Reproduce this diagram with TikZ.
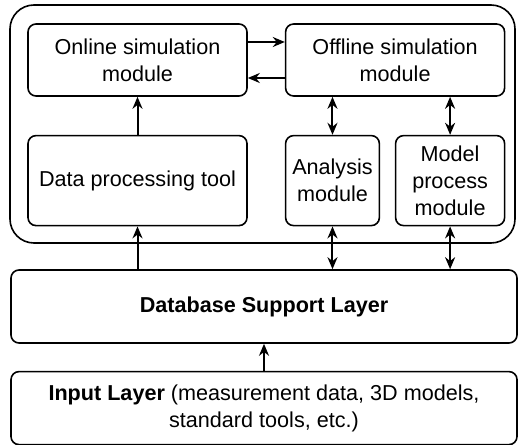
\documentclass[tikz,border=0pt]{standalone}
\usepackage{fontspec}
\setmainfont{Liberation Sans}
\usepackage{tikz}
\usetikzlibrary{positioning,arrows.meta}
\tikzstyle{arrow} = [line width=1pt,->,>={Stealth[length=6pt,width=5pt]}]
\tikzstyle{darrow} = [line width=1pt,<->,>={Stealth[length=6pt,width=5pt]}]
\tikzstyle{tBox} = [rectangle, rounded corners=4pt, draw=black, line width=0.8pt, align=center, text centered, font=\fontsize{10.8}{13.5}\selectfont]
\tikzstyle{tLayer} = [tBox, minimum width=253pt, minimum height=36.5pt]

\begin{document}
\begin{tikzpicture}[x=0.5pt,y=-0.5pt]
        \useasboundingbox (0,0) rectangle (518,444);
        \node[draw=black, line width=0.8pt, rounded corners=12pt, minimum width=252.5pt, minimum height=119pt] (Platform) at (262.5,124) {};
        \node[tBox, minimum width=109.5pt, minimum height=36pt] (Online) at (137.5,60) {Online simulation\\module};
        \node[tBox, minimum width=109.5pt, minimum height=36pt] (Offline) [right=18.5pt of Online] {Offline simulation\\module};
        \node[tBox, minimum width=109.5pt, minimum height=45pt] (DataProc) [below=19pt of Online] {Data processing tool};
        \node[tBox, minimum width=45.5pt, minimum height=45pt] (Analysis) [below=19pt of Offline.south west, anchor=north west] {Analysis\\module};
        \node[tBox, minimum width=54.5pt, minimum height=45pt] (ModelProc) [below=19pt of Offline.south east, anchor=north east] {Model\\process\\module};
        \node[tLayer] (Database) at (264,306.5) {\textbf{Database Support Layer}};
        \node[tLayer] (Input) [below=13.5pt of Database] {\textbf{Input Layer} (measurement data, 3D models,\\standard tools, etc.)};

        \draw[arrow] ([yshift=9pt]Online.east) -- ([yshift=9pt]Online.east -| Offline.west);
        \draw[arrow] ([yshift=-9pt]Offline.west) -- ([yshift=-9pt]Offline.west -| Online.east);
        \draw[arrow] (DataProc) -- (Online);
        \draw[darrow] (Analysis.north) -- (Analysis.north |- Offline.south);
        \draw[darrow] (ModelProc.north) -- (ModelProc.north |- Offline.south);
        \draw[arrow] (Database.north -| DataProc.south) -- (DataProc.south);
        \draw[darrow] (Analysis.south) -- (Analysis.south |- Database.north);
        \draw[darrow] (ModelProc.south) -- (ModelProc.south |- Database.north);
        \draw[arrow] (Input) -- (Database);
    \end{tikzpicture}
\end{document}
